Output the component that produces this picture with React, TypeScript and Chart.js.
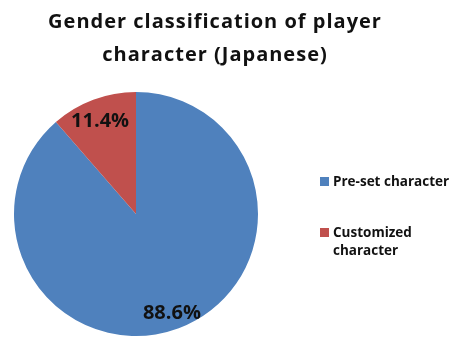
import React, { useEffect, useRef } from "react";
import { Chart, registerables } from "chart.js";

Chart.register(...registerables);

const TITLE_LINES = ["Gender classification of player", "character (Japanese)"];
const CATEGORIES = ["Pre-set character", "Customized character"];
const LEGEND_LINES = [["Pre-set character"], ["Customized", "character"]];
const VALUES = [88.6, 11.4];
const COLORS = ["#4F81BD", "#C0504D"];
const FONT = "'Open Sans', Lato, sans-serif";

const overlayPlugin = {
  id: "overlay",
  afterDatasetsDraw(chart: any) {
    const ctx = chart.ctx as CanvasRenderingContext2D;
    const meta = chart.getDatasetMeta(0);
    ctx.save();
    // slice labels
    ctx.font = `bold 20px ${FONT}`;
    ctx.fillStyle = "#111111";
    ctx.textAlign = "center";
    ctx.textBaseline = "middle";
    meta.data.forEach((arc: any, i: number) => {
      const { x, y, startAngle, endAngle, outerRadius } = arc.getProps(
        ["x", "y", "startAngle", "endAngle", "outerRadius"],
        true
      );
      const mid = (startAngle + endAngle) / 2;
      const r = outerRadius * 0.84;
      ctx.fillText(
        VALUES[i].toFixed(1) + "%",
        x + Math.cos(mid) * r,
        y + Math.sin(mid) * r + 3
      );
    });
    // title
    ctx.font = `bold 20px ${FONT}`;
    (ctx as any).letterSpacing = "1px";
    ctx.fillStyle = "#111111";
    ctx.textBaseline = "alphabetic";
    TITLE_LINES.forEach((t, i) => ctx.fillText(t, 215, 28 + i * 33));
    (ctx as any).letterSpacing = "0px";
    // legend
    ctx.textAlign = "left";
    ctx.textBaseline = "alphabetic";
    ctx.font = `bold 13.5px ${FONT}`;
    const legendY = [181, 232];
    LEGEND_LINES.forEach((lines, i) => {
      ctx.fillStyle = COLORS[i];
      ctx.fillRect(320, legendY[i] - 4, 9, 9);
      ctx.fillStyle = "#111111";
      lines.forEach((l, j) => ctx.fillText(l, 333, legendY[i] + 5 + j * 18));
    });
    ctx.restore();
  },
};

export default function App() {
  const ref = useRef<HTMLCanvasElement | null>(null);
  useEffect(() => {
    document.body.style.margin = "0";
    const chart = new Chart(ref.current!, {
      type: "pie",
      data: {
        labels: CATEGORIES,
        datasets: [
          {
            data: VALUES,
            backgroundColor: COLORS,
            borderWidth: 0,
          },
        ],
      },
      options: {
        responsive: false,
        animation: false,
        layout: { padding: { left: 14, right: 202, top: 92, bottom: 5 } },
        plugins: {
          legend: { display: false },
          title: { display: false },
          tooltip: { enabled: false },
        },
      },
      plugins: [overlayPlugin],
    });
    return () => chart.destroy();
  }, []);
  return (
    <div style={{ width: 460, height: 341, background: "#fff" }}>
      <canvas ref={ref} width={460} height={341} />
    </div>
  );
}
